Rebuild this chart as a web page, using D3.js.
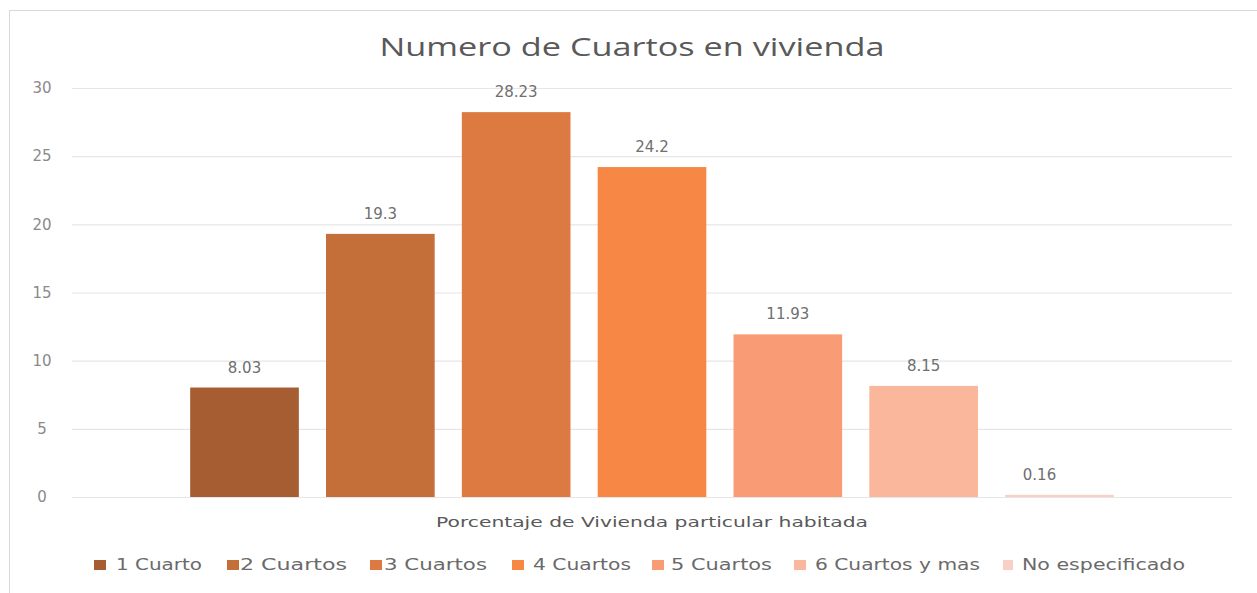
<!DOCTYPE html>
<html><head><meta charset="utf-8">
<script src="https://cdn.jsdelivr.net/npm/d3@7"></script>
<style>body{margin:0;background:#fff}svg{display:block}</style>
</head><body>
<svg id="c" width="1257" height="593"></svg>
<script>
const seriesNames = ["1 Cuarto","2 Cuartos","3 Cuartos","4 Cuartos","5 Cuartos","6 Cuartos y mas","No especificado"];
const seriesValues = [8.03, 19.3, 28.23, 24.2, 11.93, 8.15, 0.16];
const seriesLabels = ["8.03","19.3","28.23","24.2","11.93","8.15","0.16"];
const seriesColors = ["#a65d31","#c46e3a","#dd7a41","#f68745","#f99c76","#fab79b","#f8d0c4"];
const yTicks = [0,5,10,15,20,25,30];
const categoryLabel = "Porcentaje de Vivienda particular habitada";
const titleText = "Numero de Cuartos en vivienda";

const svg = d3.select("#c");
const plot = {left:72, right:1232, top:88, bottom:497};

svg.append("rect").attr("x",9.5).attr("y",10.5).attr("width",1260).attr("height",600)
  .attr("fill","#fff").attr("stroke","#d9d9d9").attr("stroke-width",1);

const y = d3.scaleLinear().domain([0,30]).range([plot.bottom, plot.top]);
const x = d3.scaleBand().domain(seriesNames).range([plot.left, plot.right])
  .paddingInner(0.2).paddingOuter(0.87);

// gridlines + tick labels
const yAxis = d3.axisLeft(y).tickValues(yTicks).tickSize(-(plot.right-plot.left)).tickPadding(20);
const ga = svg.append("g").attr("transform",`translate(${plot.left},0)`).call(yAxis);
ga.select(".domain").remove();
ga.selectAll(".tick line").attr("stroke","#e6e6e6").attr("stroke-width",1.2);
ga.selectAll(".tick text").attr("fill","#8a8a8a").attr("font-family","DejaVu Sans")
  .attr("font-size",15).attr("text-anchor","middle").attr("x",-30);

// bars
svg.append("g").selectAll("rect").data(seriesNames).join("rect")
  .attr("x",d=>x(d)).attr("width",x.bandwidth())
  .attr("y",(d,i)=>y(seriesValues[i]))
  .attr("height",(d,i)=>y(0)-y(seriesValues[i]))
  .attr("fill",(d,i)=>seriesColors[i]);

// data labels
svg.append("g").selectAll("text").data(seriesNames).join("text")
  .attr("x",(d,i)=>x(d)+x.bandwidth()/2 - (i===6?20:0))
  .attr("y",(d,i)=>y(seriesValues[i])-15)
  .attr("text-anchor","middle").attr("font-family","DejaVu Sans").attr("font-size",15)
  .attr("fill","#6f6f6f").text((d,i)=>seriesLabels[i]);

// title
svg.append("text").attr("x",632).attr("y",56).attr("text-anchor","middle")
  .attr("font-family","Open Sans").attr("font-size",26).attr("fill","#595959")
  .attr("textLength",505).attr("lengthAdjust","spacingAndGlyphs").text(titleText);

// category label
svg.append("text").attr("x",652).attr("y",527).attr("text-anchor","middle")
  .attr("font-family","DejaVu Sans").attr("font-size",14).attr("fill","#595959")
  .attr("textLength",432).attr("lengthAdjust","spacingAndGlyphs").text(categoryLabel);

// legend
const legendSw = [94,227,370,512,652,794,1003];
const legendTx = [116,240,384,533,671,815,1022];
const legendEnd = [202,347,487,631,772,980,1185];
const lg = svg.append("g");
seriesNames.forEach((n,i)=>{
  lg.append("rect").attr("x",legendSw[i]).attr("y",560).attr("width",i===6?10:12).attr("height",10)
    .attr("fill",seriesColors[i]);
  lg.append("text").attr("x",legendTx[i]).attr("y",570).attr("font-family","DejaVu Sans")
    .attr("font-size",15).attr("fill","#6a6a6a")
    .attr("textLength",legendEnd[i]-legendTx[i]).attr("lengthAdjust","spacingAndGlyphs").text(n);
});
</script>
</body></html>
